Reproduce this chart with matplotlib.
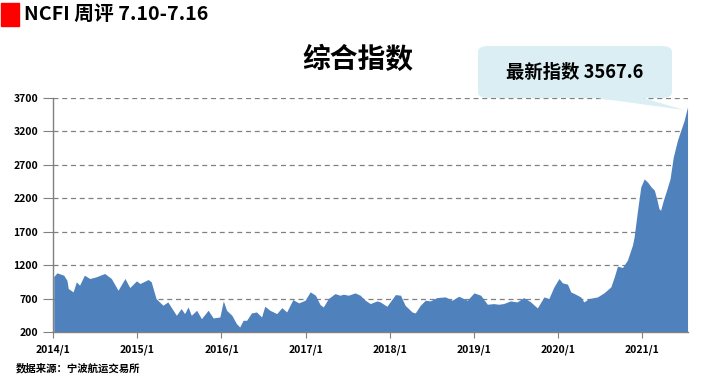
import matplotlib.pyplot as plt
import matplotlib.patches as mpatches
import pandas as pd

plt.rcParams['font.family'] = ['Noto Sans CJK SC', 'DejaVu Sans']

# 综合指数 (NCFI) 读图估计值
dates = [
    '2014-01-03', '2014-01-17', '2014-02-15', '2014-03-01', '2014-03-07', '2014-03-28',
    '2014-04-11', '2014-04-25', '2014-05-16', '2014-06-08', '2014-07-06', '2014-08-12',
    '2014-09-10', '2014-10-09', '2014-11-08', '2014-11-29', '2014-12-28', '2015-01-12',
    '2015-02-17', '2015-03-02', '2015-03-23', '2015-04-22', '2015-05-13', '2015-06-19',
    '2015-07-10', '2015-07-25', '2015-08-09', '2015-08-23', '2015-09-15', '2015-10-06',
    '2015-11-04', '2015-11-26', '2015-12-25', '2016-01-09', '2016-01-23', '2016-02-15',
    '2016-03-06', '2016-03-20', '2016-04-04', '2016-04-19', '2016-05-10', '2016-06-01',
    '2016-06-23', '2016-07-07', '2016-07-29', '2016-08-28', '2016-09-19', '2016-10-10',
    '2016-11-06', '2016-12-01', '2016-12-29', '2017-01-20', '2017-02-12', '2017-03-04',
    '2017-03-18', '2017-04-09', '2017-05-08', '2017-05-29', '2017-06-13', '2017-07-05',
    '2017-08-03', '2017-08-25', '2017-09-16', '2017-10-08', '2017-11-06', '2017-11-20',
    '2017-12-19', '2018-01-25', '2018-02-16', '2018-03-08', '2018-04-07', '2018-04-21',
    '2018-05-13', '2018-06-04', '2018-06-25', '2018-07-24', '2018-08-30', '2018-09-28',
    '2018-10-27', '2018-12-03', '2019-01-01', '2019-01-30', '2019-02-28', '2019-03-27',
    '2019-04-18', '2019-05-09', '2019-06-08', '2019-07-07', '2019-08-05', '2019-09-04',
    '2019-10-03', '2019-11-01', '2019-11-22', '2019-12-14', '2020-01-05', '2020-01-20',
    '2020-02-11', '2020-02-25', '2020-03-17', '2020-04-08', '2020-04-22', '2020-05-14',
    '2020-06-20', '2020-07-18', '2020-08-17', '2020-09-01', '2020-09-15', '2020-10-07',
    '2020-10-28', '2020-11-19', '2020-11-26', '2020-12-11', '2020-12-25', '2021-01-09',
    '2021-01-24', '2021-02-08', '2021-02-22', '2021-03-04', '2021-03-14', '2021-03-21',
    '2021-04-02', '2021-04-16', '2021-05-01', '2021-05-15', '2021-06-02', '2021-06-16',
    '2021-07-01', '2021-07-16',
]
values = [
    1030, 1085, 1050, 975, 850, 800,
    950, 900, 1050, 1000, 1025, 1075,
    1000, 825, 1000, 865, 965, 925,
    985, 950, 700, 600, 650, 450,
    550, 475, 575, 450, 525, 400,
    525, 410, 425, 665, 525, 450,
    325, 275, 375, 375, 485, 500,
    425, 585, 525, 475, 565, 500,
    685, 635, 675, 800, 750, 610,
    575, 700, 775, 750, 765, 750,
    785, 750, 675, 625, 665, 650,
    585, 760, 750, 600, 500, 485,
    600, 675, 665, 715, 725, 675,
    735, 675, 785, 750, 615, 625,
    615, 625, 665, 650, 715, 650,
    560, 725, 700, 875, 1000, 935,
    915, 800, 765, 725, 650, 700,
    725, 785, 875, 1025, 1185, 1165,
    1275, 1500, 1620, 2020, 2370, 2490,
    2440, 2370, 2320, 2195, 2045, 2020,
    2170, 2320, 2490, 2815, 3065, 3210,
    3360, 3567.6,
]
y_ticks = [200, 700, 1200, 1700, 2200, 2700, 3200, 3700]
x_ticks = ['2014-01-01', '2015-01-01', '2016-01-01', '2017-01-01',
           '2018-01-01', '2019-01-01', '2020-01-01', '2021-01-01']
x_labels = ['2014/1', '2015/1', '2016/1', '2017/1', '2018/1', '2019/1', '2020/1', '2021/1']

W, H = 726, 384


def fx(px):
    return px / W


def fy(py):
    return 1 - py / H


def main():
    fig = plt.figure(figsize=(W / 100, H / 100), dpi=100)
    ax = fig.add_axes([fx(53.3), fy(332), fx(688) - fx(53.3), fy(98) - fy(332)])

    d = pd.to_datetime(dates)
    ax.fill_between(d, values, 200, color='#4F81BD', linewidth=0)

    ax.set_ylim(200, 3700)
    ax.set_xlim(pd.Timestamp('2014-01-01'), pd.Timestamp('2021-07-18'))
    ax.set_yticks(y_ticks)
    ax.set_yticklabels([str(v) for v in y_ticks], fontsize=7.5, fontweight='bold')
    ax.set_xticks(pd.to_datetime(x_ticks))
    ax.set_xticklabels(x_labels, fontsize=7.5, fontweight='bold')

    # 网格线和坐标轴
    for v in y_ticks[1:]:
        ax.axhline(v, color='#808080', linestyle=(0, (4, 3)), linewidth=0.9, zorder=0)
    for s in ['top', 'right']:
        ax.spines[s].set_visible(False)
    for s in ['left', 'bottom']:
        ax.spines[s].set_color('#808080')
        ax.spines[s].set_linewidth(1)
    ax.tick_params(axis='y', length=7, color='#808080', pad=4)
    ax.tick_params(axis='x', length=4, color='#808080', pad=5)

    # 标题
    fig.patches.append(mpatches.Rectangle((fx(1), fy(26)), fx(18) - fx(0), fy(3) - fy(26),
                                          transform=fig.transFigure, color='#FF0000'))
    fig.text(fx(24), fy(14), 'NCFI 周评 7.10-7.16', fontsize=14.2, fontweight='bold',
             va='center', ha='left')
    fig.text(fx(358), fy(60), '综合指数', fontsize=20, fontweight='bold',
             va='center', ha='center')

    # 最新指数提示框
    box = mpatches.FancyBboxPatch((fx(478), fy(98)), fx(672) - fx(478), fy(46) - fy(98),
                                  boxstyle='round,pad=0,rounding_size=0.015',
                                  transform=fig.transFigure, facecolor='#DAEEF3',
                                  edgecolor='none')
    fig.patches.append(box)
    tail = mpatches.Polygon([(fx(590), fy(97)), (fx(640), fy(97)), (fx(684), fy(110))],
                            closed=True, transform=fig.transFigure,
                            facecolor='#DAEEF3', edgecolor='none')
    fig.patches.append(tail)
    fig.text(fx(575), fy(72), '最新指数 3567.6', fontsize=13.2, fontweight='bold',
             va='center', ha='center')

    fig.text(fx(16), fy(368), '数据来源：宁波航运交易所', fontsize=7.5, fontweight='bold',
             va='center', ha='left')

    fig.savefig('out.png', dpi=100)


if __name__ == '__main__':
    main()
